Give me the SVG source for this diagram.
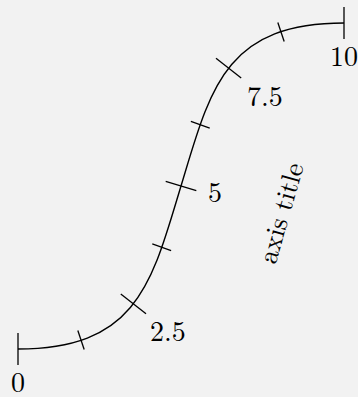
<svg xmlns="http://www.w3.org/2000/svg" width="358" height="397" viewBox="0 0 358 397">
<style>
.ax{fill:none;stroke:#000;stroke-width:1.4}
.tk{stroke:#000;stroke-width:1.3}
.lb{font-family:"Latin Modern Roman","Liberation Serif",serif;font-size:28px;fill:#000}
.tt{font-family:"Latin Modern Roman","Liberation Serif",serif;font-size:27px;fill:#000}
</style>
<defs>
<line id="maj" x1="0" y1="-16" x2="0" y2="16" class="tk"/>
<line id="min" x1="0" y1="-10" x2="0" y2="10" class="tk"/>
</defs>
<rect width="358" height="397" fill="#f2f2f2"/>
<g id="axis">
<path class="ax" d="M18,349 C138,349 152,282 181,186 C210,90 224,23 344,23"/>
</g>
<g id="ticks">
<use href="#maj" transform="translate(18,349)"/>
<use href="#min" transform="translate(81,340) rotate(-18.5)"/>
<use href="#maj" transform="translate(133.4,303.8) rotate(-52)"/>
<use href="#min" transform="translate(161.7,247.2) rotate(-70.5)"/>
<use href="#maj" transform="translate(181,186) rotate(-73.2)"/>
<use href="#min" transform="translate(200.3,124.8) rotate(-70.5)"/>
<use href="#maj" transform="translate(228.6,68.2) rotate(-52)"/>
<use href="#min" transform="translate(281,32) rotate(-18.5)"/>
<use href="#maj" transform="translate(344,23)"/>
</g>
<g id="labels">
<text class="lb" x="18" y="391.5" text-anchor="middle">0</text>
<text class="lb" x="150" y="341">2.5</text>
<text class="lb" x="208" y="202">5</text>
<text class="lb" x="247" y="106">7.5</text>
<text class="lb" x="344" y="66" text-anchor="middle">10</text>
</g>
<g id="title">
<text class="tt" transform="translate(281,213) rotate(-74)" x="0" y="9" text-anchor="middle">axis title</text>
</g>
</svg>
